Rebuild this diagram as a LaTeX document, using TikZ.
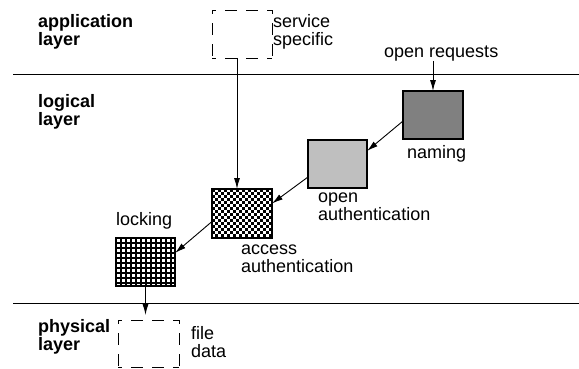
\documentclass[tikz,border=0pt]{standalone}
\usepackage{fontspec}
\setmainfont{Liberation Sans}
\usetikzlibrary{arrows.meta,calc}

\definecolor{namingfill}{gray}{0.50}
\definecolor{openfill}{gray}{0.75}

\begin{document}
\begin{tikzpicture}[x=1pt,y=-1pt,
  txt/.style={anchor=base west,inner sep=0pt,align=left,font=\fontsize{18}{18}\selectfont},
  layertxt/.style={txt,font=\fontsize{18}{18}\selectfont\bfseries},
  blk/.style={draw,line width=1.2pt,inner sep=0pt,outer sep=0pt,minimum width=60pt,minimum height=48pt},
  ghost/.style={inner sep=0pt,outer sep=0pt,minimum width=60pt,minimum height=48pt},
  ghostrim/.style={line width=1pt,dash pattern=on 12pt off 9pt,dash phase=8pt},
  arr/.style={line width=0.9pt,-{Latex[length=11pt,width=6pt]}},
  rim/.style={draw,line width=1.2pt}
]
\useasboundingbox (0,0) rectangle (579,368);

% layer boundaries
\draw[line width=1pt] (13,74) -- (579,74);
\draw[line width=1pt] (13,303) -- (579,303);

% layer names (anchored on the baseline of the last line)
\node[layertxt] (app) at (38,45) {application\\layer};
\node[layertxt] (logl) at (38,125) {logical\\layer};
\node[layertxt] (phys) at (38,350) {physical\\layer};

% components
\node[ghost] (service) at (242,34) {};
\node[blk,fill=namingfill] (naming) at (433,115) {};
\node[blk,fill=openfill,minimum width=59pt] (openauth) at (337.5,164) {};
\node[blk,fill=white,minimum height=49pt] (access) at (242,213.5) {};
\node[blk,fill=white,minimum width=59pt] (locking) at (145.5,262) {};
\node[ghost,minimum width=61pt,minimum height=47pt] (file) at (148.5,343.5) {};

% dashed outlines, each side dashed on its own so every corner is drawn
\foreach \g in {service,file}
  \draw[ghostrim] (\g.north west) -- (\g.north east)
                  (\g.north east) -- (\g.south east)
                  (\g.north west) -- (\g.south west)
                  (\g.south west) -- (\g.south east);

% checkerboard texture of the access box
\begin{scope}
  \clip (access.north west) rectangle (access.south east);
  \foreach \a in {0,...,10} \foreach \b in {0,...,9} {
    \fill ($(access.north west)+(6*\a,6*\b)$) rectangle ++(3,3);
    \fill ($(access.north west)+(6*\a+3,6*\b+3)$) rectangle ++(3,3);
  }
\end{scope}
\draw[rim] (access.north west) rectangle (access.south east);

% mesh texture of the locking box
\begin{scope}
  \clip (locking.north west) rectangle (locking.south east);
  \foreach \a in {0,...,12}
    \draw[line width=1.4pt] ($(locking.north west)+(5*\a,0)$) -- ++(0,48);
  \foreach \b in {0,...,10}
    \draw[line width=1.4pt] ($(locking.north west)+(0,5*\b)$) -- ++(59,0);
\end{scope}
\draw[rim] (locking.north west) rectangle (locking.south east);

% component labels
\node[txt] (servicetxt) at (273,45) {service\\specific};
\node[txt] (req) at (384,57) {open requests};
\node[txt] (namingtxt) at (407,158) {naming};
\node[txt] (openauthtxt) at (318,220) {open\\authentication};
\node[txt] (accesstxt) at (241,272) {access\\authentication};
\node[txt] (lockingtxt) at (116,225) {locking};
\node[txt] (filetxt) at (191,357) {file\\data};

% request flow
\draw[arr] (req.south -| naming.north) -- (naming.north);
\draw[arr] ([yshift=-6pt]naming.west) -- ([yshift=13pt]openauth.east);
\draw[arr] ([yshift=-13pt]openauth.west) -- ([yshift=10pt]access.east);
\draw[arr] ([yshift=-8pt]access.west) -- ([yshift=9pt]locking.east);
\draw[arr] ([xshift=-5pt]service.south) -- ([xshift=-5pt]access.north);
\draw[arr] (locking.south) -- ($(locking.south |- file.north)+(0,-5)$);
\end{tikzpicture}
\end{document}
